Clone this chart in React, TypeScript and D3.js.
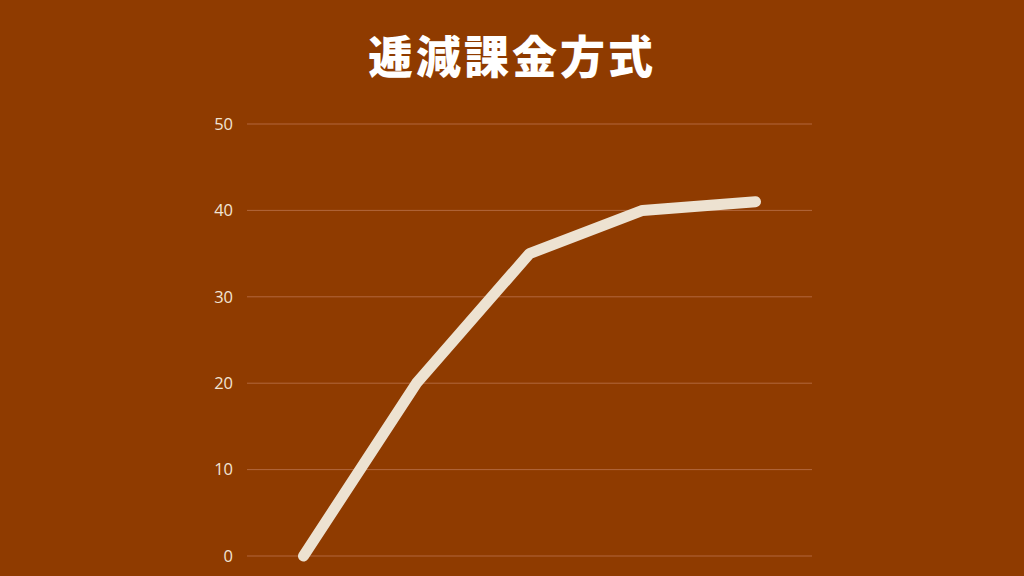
import React from "react";
import * as d3 from "d3";

const categories = ["1", "2", "3", "4", "5"];
const values = [0, 20, 35, 40, 41];
const yTicks = [0, 10, 20, 30, 40, 50];
const title = "逓減課金方式";

const W = 1024;
const H = 576;
const BG = "#8f3b00";
const LINE = "#ede2d1";

export default function App() {
  const x = d3.scalePoint<string>().domain(categories).range([247, 812]).padding(0.5);
  const y = d3.scaleLinear().domain([0, 50]).range([556, 124]);
  const line = d3
    .line<number>()
    .x((_, i) => x(categories[i]) as number)
    .y((d) => y(d));

  return (
    <div style={{ position: "fixed", left: 0, top: 0, width: W, height: H }}>
      <svg width={W} height={H} style={{ display: "block" }}>
        <rect width={W} height={H} fill={BG} />
        <text
          x={512}
          y={74}
          textAnchor="middle"
          fill="#ffffff"
          fontFamily="'Noto Sans CJK JP', sans-serif"
          fontWeight={900}
          fontSize={45}
          letterSpacing={3}
        >
          {title}
        </text>
        {yTicks.map((t) => (
          <g key={t}>
            <line x1={247} x2={812} y1={y(t)} y2={y(t)} stroke="#b2673c" strokeWidth={1} />
            <text
              x={233}
              y={y(t)}
              dy="0.35em"
              textAnchor="end"
              fill="#f2e4d4"
              fontFamily="'Open Sans', sans-serif"
              fontSize={16.5}
            >
              {t}
            </text>
          </g>
        ))}
        <path
          d={line(values) || ""}
          fill="none"
          stroke={LINE}
          strokeWidth={11}
          strokeLinecap="round"
          strokeLinejoin="round"
        />
      </svg>
    </div>
  );
}
